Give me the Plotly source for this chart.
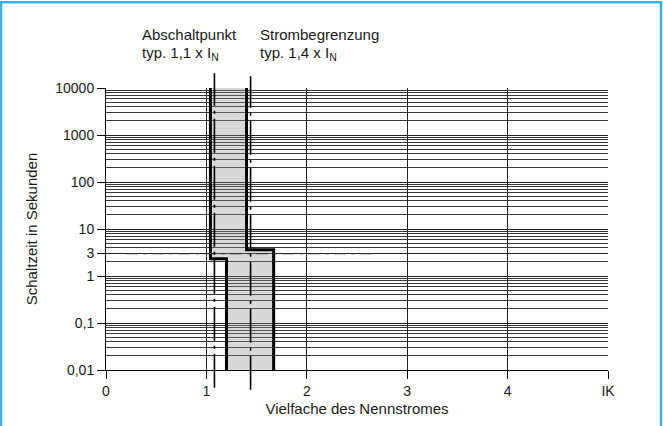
import plotly.graph_objects as go

# ---- data ----
abschalt_x = [1.04, 1.04, 1.20, 1.20]          # Abschaltpunkt boundary (x multiples of I_N)
abschalt_t = [10000, 2.33, 2.33, 0.01]         # seconds
begrenz_x = [1.40, 1.40, 1.67, 1.67]           # Strombegrenzung boundary
begrenz_t = [10000, 3.6, 3.6, 0.01]
typ_abschalt = 1.08                            # typ. 1,1 x I_N (dash-dot)
typ_strom = 1.44                               # typ. 1,4 x I_N (dash-dot)
ref_time = 3                                   # horizontal dash-dot line at 3 s
ref_span = [0.2, 2.7]
x_tickvals = [0, 1, 2, 3, 4, 5]
x_ticktext = ["0", "1", "2", "3", "4", "IK"]
y_tickvals = [0.01, 0.1, 1, 3, 10, 100, 1000, 10000]
y_ticktext = ["0,01", "0,1", "1", "3", "10", "100", "1000", "10000"]

# ---- geometry ----
W, H = 663, 426
L, R, T, B = 106, 55, 88, 52
PW, PH = W - L - R, H - T - B
def px(x):  # figure px -> paper x
    return (x - L) / PW
def py(y):  # figure px -> paper y
    return (H - y - B) / PH

FONT = "Liberation Sans, Arial, Helvetica, sans-serif"
INK = "#1a1a1a"

fig = go.Figure()

# shaded band
fig.add_trace(go.Scatter(
    x=abschalt_x + begrenz_x[::-1], y=abschalt_t + begrenz_t[::-1],
    fill="toself", fillcolor="rgba(140,140,140,0.34)", mode="lines",
    line=dict(width=0), hoverinfo="skip", showlegend=False))

# boundaries
for xs, ts in [(abschalt_x, abschalt_t), (begrenz_x, begrenz_t)]:
    fig.add_trace(go.Scatter(x=xs, y=ts, mode="lines",
                             line=dict(color="#000", width=3),
                             showlegend=False, hoverinfo="skip"))

# horizontal 3 s dash-dot
fig.add_trace(go.Scatter(x=ref_span, y=[ref_time, ref_time], mode="lines",
                         line=dict(color="#333", width=1.2, dash="12px,5px,4px,5px"),
                         showlegend=False, hoverinfo="skip"))

shapes = []
# vertical dash-dot lines extending beyond plot area
for xv, ytop, ybot in [(typ_abschalt, 73, 392), (typ_strom, 76, 394)]:
    shapes.append(dict(type="line", xref="x", yref="paper",
                       x0=xv, x1=xv, y0=py(ybot), y1=py(ytop),
                       line=dict(color="#000", width=1.6, dash="34px,5px,3px,5px")))
# blue frame
x0f, x1f, ytf, ybf = px(1), px(661), py(1), py(440)
shapes.append(dict(type="path", xref="paper", yref="paper",
                   path=f"M {x0f},{ybf} L {x0f},{ytf} L {x1f},{ytf} L {x1f},{ybf}",
                   line=dict(color="#3fb0e6", width=2.5)))

annotations = []
for xa, l1, l2 in [(0.34, "Abschaltpunkt", "typ. 1,1 x I<sub>N</sub>"),
                   (1.515, "Strombegrenzung", "typ. 1,4 x I<sub>N</sub>")]:
    annotations.append(dict(x=xa, y=py(34), xref="x", yref="paper", text=l1,
                            showarrow=False, xanchor="left", yanchor="middle",
                            font=dict(size=15, color=INK, family=FONT)))
    annotations.append(dict(x=xa, y=py(53), xref="x", yref="paper", text=l2,
                            showarrow=False, xanchor="left", yanchor="middle",
                            font=dict(size=15, color=INK, family=FONT)))

fig.update_layout(
    width=W, height=H, margin=dict(l=L, r=R, t=T, b=B),
    paper_bgcolor="white", plot_bgcolor="white",
    font=dict(family=FONT, size=14, color=INK),
    shapes=shapes, annotations=annotations, showlegend=False,
    xaxis=dict(range=[0, 5], tickvals=x_tickvals, ticktext=x_ticktext,
               showgrid=True, gridcolor="#222", gridwidth=1, zeroline=False,
               showline=True, linecolor="#000", linewidth=1,
               ticks="outside", ticklen=8, tickcolor="#000",
               title=dict(text="Vielfache des Nennstromes", font=dict(size=15), standoff=5),
               tickfont=dict(size=14), fixedrange=True),
    yaxis=dict(type="log", range=[-2, 4], tickvals=y_tickvals, ticktext=y_ticktext,
               showgrid=True, gridcolor="#222", gridwidth=1, zeroline=False,
               showline=True, linecolor="#000", linewidth=1,
               ticks="outside", ticklen=8, tickcolor="#000",
               minor=dict(showgrid=True, dtick="D1", gridcolor="#3a3a3a", gridwidth=1, ticks=""),
               title=dict(text="Schaltzeit in Sekunden", font=dict(size=15), standoff=14),
               tickfont=dict(size=14), fixedrange=True),
)

fig.write_html("out.html", config={"displayModeBar": False},
               post_script="document.body.style.margin='0';document.body.style.overflow='hidden';")
